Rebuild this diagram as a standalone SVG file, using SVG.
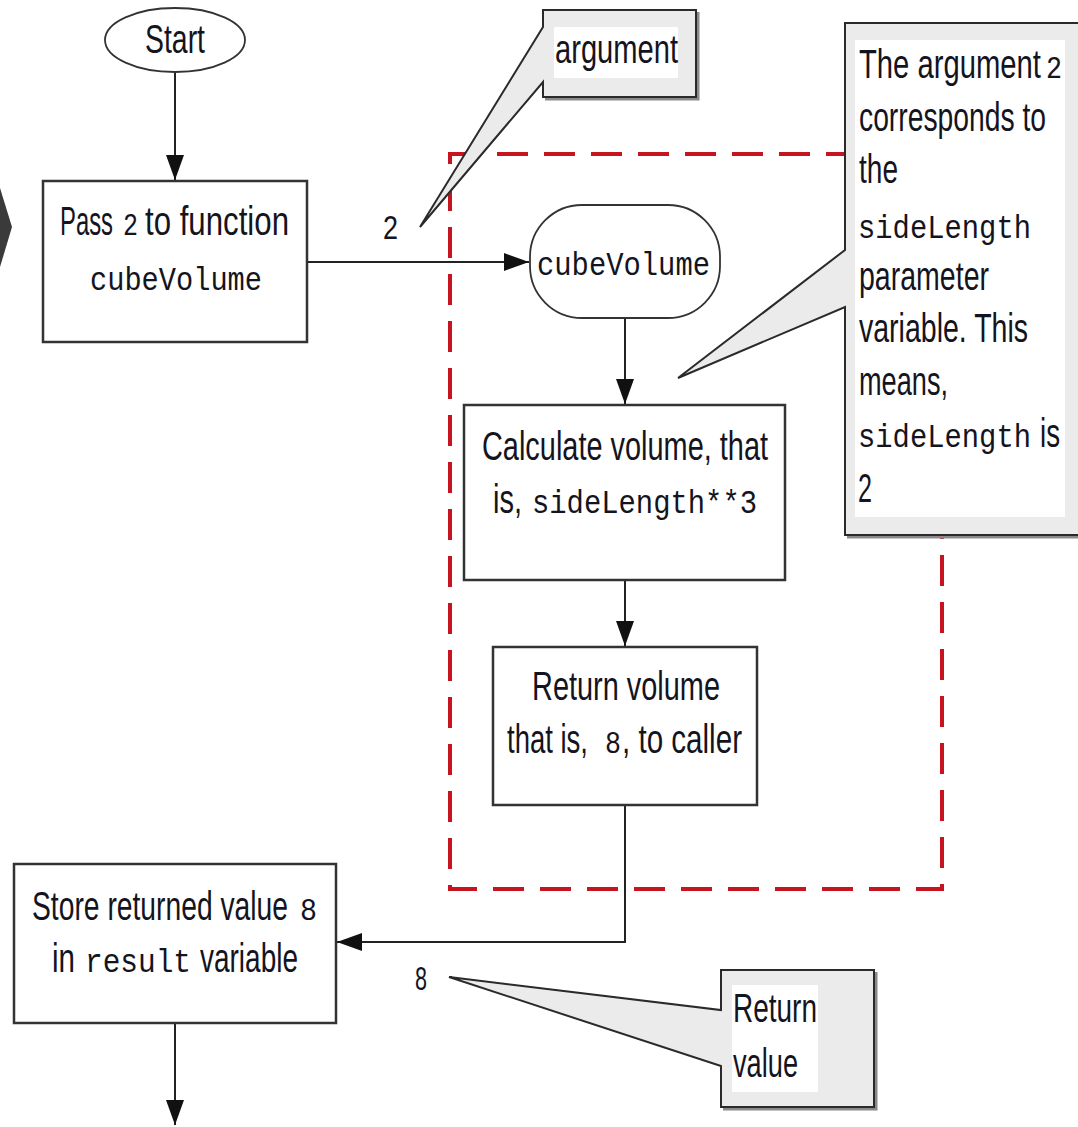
<svg xmlns="http://www.w3.org/2000/svg" width="1078" height="1127" viewBox="0 0 1078 1127">
<defs>
<marker id="arr" markerUnits="userSpaceOnUse" markerWidth="26" markerHeight="18" refX="25" refY="9" orient="auto">
<path d="M0,0 L25,9 L0,18 Z" fill="#111"/>
</marker>
<style>
.box{fill:#fff;stroke:#333;stroke-width:2.5}
.t{font-family:"Liberation Sans",Arial,sans-serif;font-size:40px;fill:#141420}
.m{font-family:"Liberation Mono","Courier New",monospace;font-size:34px;fill:#141420}
.d{font-family:"Liberation Mono","Courier New",monospace;font-size:32px;fill:#141420}
.lbl{font-family:"Liberation Sans",Arial,sans-serif;font-size:34px;fill:#141420}
.conn{fill:none;stroke:#222;stroke-width:2}
.call{fill:#ebebeb;stroke:#2a2a2a;stroke-width:2;stroke-linejoin:miter}
.callsh{fill:none;stroke:#8a8a8a;stroke-width:3}
.tbg{fill:#fff}
.red{fill:none;stroke:#c8141e;stroke-width:4;stroke-dasharray:31 16}
</style>
</defs>
<rect width="1078" height="1127" fill="#fff"/>

<g id="edge-chevron">
<polygon points="0,188 12,227 0,267" fill="#3a3a3a"/>
</g>

<g id="function-boundary">
<rect class="red" x="450" y="154" width="492" height="735"/>
</g>

<g id="connectors">
<line class="conn" x1="175" y1="72" x2="175" y2="180" marker-end="url(#arr)"/>
<line class="conn" x1="308" y1="262" x2="529" y2="262" marker-end="url(#arr)"/>
<line class="conn" x1="625" y1="318" x2="625" y2="404" marker-end="url(#arr)"/>
<line class="conn" x1="625" y1="580" x2="625" y2="646" marker-end="url(#arr)"/>
<path class="conn" d="M625,805 V942 H337" marker-end="url(#arr)"/>
<line class="conn" x1="175" y1="1023" x2="175" y2="1125" marker-end="url(#arr)"/>
<text class="lbl" x="383" y="239" textLength="15" lengthAdjust="spacingAndGlyphs">2</text>
<text class="lbl" x="415" y="990" textLength="12" lengthAdjust="spacingAndGlyphs">8</text>
</g>

<g id="start">
<ellipse cx="175" cy="40" rx="70" ry="32" fill="#fff" stroke="#333" stroke-width="1.8"/>
<text class="t" x="145" y="53" textLength="60" lengthAdjust="spacingAndGlyphs">Start</text>
</g>

<g id="pass">
<rect class="box" x="43" y="181" width="264" height="161"/>
<text class="t" x="60" y="235" textLength="53" lengthAdjust="spacingAndGlyphs">Pass</text>
<text class="d" x="123" y="235" textLength="15" lengthAdjust="spacingAndGlyphs">2</text>
<text class="t" x="145" y="235" textLength="144" lengthAdjust="spacingAndGlyphs">to function</text>
<text class="m" x="90" y="290" textLength="172" lengthAdjust="spacingAndGlyphs">cubeVolume</text>
</g>

<g id="cubeVolume">
<rect x="530" y="205" width="190" height="113" rx="52" ry="52" fill="#fff" stroke="#333" stroke-width="1.8"/>
<text class="m" x="537" y="275" textLength="173" lengthAdjust="spacingAndGlyphs">cubeVolume</text>
</g>

<g id="calculate">
<rect class="box" x="464" y="405" width="321" height="175"/>
<text class="t" x="482" y="460" textLength="286" lengthAdjust="spacingAndGlyphs">Calculate volume, that</text>
<text class="t" x="493" y="513" textLength="29" lengthAdjust="spacingAndGlyphs">is,</text>
<text class="m" x="532" y="513" textLength="225" lengthAdjust="spacingAndGlyphs">sideLength**3</text>
</g>

<g id="return">
<rect class="box" x="493" y="647" width="264" height="158"/>
<text class="t" x="532" y="700" textLength="188" lengthAdjust="spacingAndGlyphs">Return volume</text>
<text class="t" x="507" y="753" textLength="81" lengthAdjust="spacingAndGlyphs">that is,</text>
<text class="d" x="605" y="753" textLength="16" lengthAdjust="spacingAndGlyphs">8</text>
<text class="t" x="622" y="753" textLength="120" lengthAdjust="spacingAndGlyphs">, to caller</text>
</g>

<g id="store">
<rect class="box" x="14" y="864" width="322" height="159"/>
<text class="t" x="32" y="920" textLength="256" lengthAdjust="spacingAndGlyphs">Store returned value</text>
<text class="d" x="300" y="920" textLength="17" lengthAdjust="spacingAndGlyphs">8</text>
<text class="t" x="52" y="972" textLength="23" lengthAdjust="spacingAndGlyphs">in</text>
<text class="m" x="85" y="972" textLength="106" lengthAdjust="spacingAndGlyphs">result</text>
<text class="t" x="200" y="972" textLength="98" lengthAdjust="spacingAndGlyphs">variable</text>
</g>

<g id="callout-argument">
<path class="callsh" d="M698,12 V99 H545"/>
<path class="call" d="M543,10 H696 V97 H543 V82 L420,227 L543,27 Z"/>
<rect class="tbg" x="554" y="27" width="124" height="51"/>
<text class="t" x="555" y="63" textLength="123" lengthAdjust="spacingAndGlyphs">argument</text>
</g>

<g id="callout-parameter">
<path class="callsh" d="M847,537 H1080"/>
<path class="call" d="M845,23 H1090 V535 H845 V307 L678,378 L845,250 Z"/>
<rect class="tbg" x="855" y="40" width="210" height="477"/>
<text class="t" x="859" y="78" textLength="182" lengthAdjust="spacingAndGlyphs">The argument</text>
<text class="d" x="1046" y="78" textLength="16" lengthAdjust="spacingAndGlyphs">2</text>
<text class="t" x="859" y="131" textLength="187" lengthAdjust="spacingAndGlyphs">corresponds to</text>
<text class="t" x="859" y="183" textLength="39" lengthAdjust="spacingAndGlyphs">the</text>
<text class="m" x="858" y="238" textLength="173" lengthAdjust="spacingAndGlyphs">sideLength</text>
<text class="t" x="859" y="290" textLength="130" lengthAdjust="spacingAndGlyphs">parameter</text>
<text class="t" x="859" y="342" textLength="169" lengthAdjust="spacingAndGlyphs">variable. This</text>
<text class="t" x="859" y="395" textLength="89" lengthAdjust="spacingAndGlyphs">means,</text>
<text class="m" x="858" y="447" textLength="173" lengthAdjust="spacingAndGlyphs">sideLength</text>
<text class="t" x="1040" y="447" textLength="20" lengthAdjust="spacingAndGlyphs">is</text>
<text class="t" x="858" y="502" textLength="14" lengthAdjust="spacingAndGlyphs">2</text>
</g>

<g id="callout-return">
<path class="callsh" d="M876,972 V1109 H723"/>
<path class="call" d="M721,970 H874 V1107 H721 V1066 L449,977 L721,1010 Z"/>
<rect class="tbg" x="732" y="985" width="86" height="107"/>
<text class="t" x="733" y="1022" textLength="84" lengthAdjust="spacingAndGlyphs">Return</text>
<text class="t" x="733" y="1077" textLength="65" lengthAdjust="spacingAndGlyphs">value</text>
</g>
</svg>
